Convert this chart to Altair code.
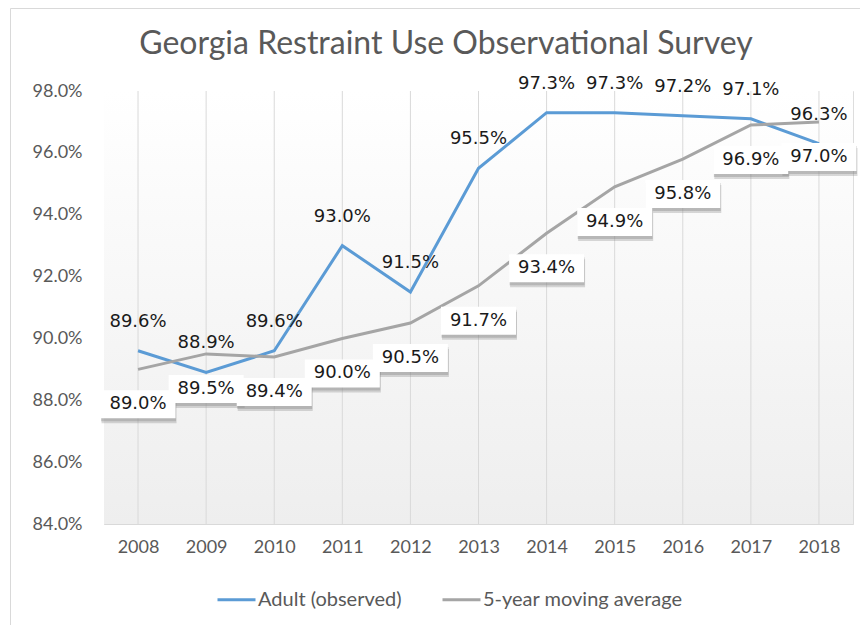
import altair as alt
import pandas as pd

years = [2008, 2009, 2010, 2011, 2012, 2013, 2014, 2015, 2016, 2017, 2018]
adult = [89.6, 88.9, 89.6, 93.0, 91.5, 95.5, 97.3, 97.3, 97.2, 97.1, 96.3]
moving_avg = [89.0, 89.5, 89.4, 90.0, 90.5, 91.7, 93.4, 94.9, 95.8, 96.9, 97.0]
series_names = ["Adult (observed)", "5-year moving average"]
series_colors = ["#5b9bd5", "#a5a5a5"]
y_ticks = [84, 86, 88, 90, 92, 94, 96, 98]
title_text = "Georgia Restraint Use Observational Survey"

W, H = 749, 433

df_a = pd.DataFrame({"year": years, "value": adult, "series": series_names[0]})
df_m = pd.DataFrame({"year": years, "value": moving_avg, "series": series_names[1]})
df = pd.concat([df_a, df_m], ignore_index=True)
df["label"] = df["value"].map(lambda v: f"{v:.1f}%")

x_scale = alt.Scale(domain=[years[0] - 0.5, years[-1] + 0.5], nice=False, zero=False)
x_enc = alt.X("year:Q", scale=x_scale,
              axis=alt.Axis(title=None, values=years, format="d", labelAngle=0, labelFont="Lato",
                            labelFontSize=18, labelColor="#595959", labelPadding=14, ticks=False,
                            domain=True, domainColor="#d9d9d9", domainWidth=1, grid=False,
                            labelFlush=False))
y_scale = alt.Scale(domain=[84, 98], nice=False, zero=False)
y_enc = alt.Y("value:Q", scale=y_scale,
              axis=alt.Axis(title=None, values=y_ticks, labelFont="Lato", labelFontSize=18,
                            labelColor="#595959", labelPadding=22, ticks=False, domain=False,
                            grid=False, labelExpr="format(datum.value, '.1f') + '%'"))

base = alt.Chart(df)
one = pd.DataFrame({"k": [0]})

bg = alt.Chart(one).mark_rect(
    fill=alt.Gradient(gradient="linear", x1=0, y1=0, x2=0, y2=1,
                      stops=[alt.GradientStop(color="#ffffff", offset=0),
                             alt.GradientStop(color="#eeeeee", offset=1)])
).encode(x=alt.value(0), x2=alt.value(W), y=alt.value(0), y2=alt.value(H))

border_left = alt.Chart(one).mark_rule(color="#d9d9d9", strokeWidth=1).encode(
    x=alt.value(-93.5), y=alt.value(-82.5), y2=alt.value(H + 101))
border_top = alt.Chart(one).mark_rule(color="#d9d9d9", strokeWidth=1).encode(
    x=alt.value(-93.5), x2=alt.value(W + 7), y=alt.value(-82.5))

title = alt.Chart(one).mark_text(font="Lato", fontSize=32, color="#595959", align="center",
                                 baseline="alphabetic").encode(
    x=alt.value(342), y=alt.value(-37), text=alt.value(title_text))

grid = alt.Chart(pd.DataFrame({"year": years})).mark_rule(color="#d9d9d9", strokeWidth=1).encode(
    x=alt.X("year:Q", scale=x_scale), y=alt.value(0), y2=alt.value(H))

lines = base.mark_line(strokeWidth=3).encode(
    x=x_enc, y=y_enc,
    color=alt.Color("series:N", scale=alt.Scale(domain=series_names, range=series_colors),
                    legend=alt.Legend(title=None, orient="none", legendX=112, legendY=488,
                                      direction="horizontal", symbolType="stroke",
                                      symbolSize=1444, symbolStrokeWidth=3,
                                      labelFont="Lato", labelFontSize=20, labelColor="#595959",
                                      labelOffset=1, columnPadding=34, labelLimit=400)),
    order=alt.Order("year:Q"))

adult_df = base.transform_filter(alt.datum.series == series_names[0])
ma_df = base.transform_filter(alt.datum.series == series_names[1])

adult_text = adult_df.mark_text(font="DejaVu Sans", fontSize=18, color="#1a1a1a",
                                dy=-29, baseline="middle").encode(
    x=alt.X("year:Q", scale=x_scale), y=alt.Y("value:Q", scale=y_scale), text="label:N")

shadow1 = ma_df.mark_rect(width=75, height=28, yOffset=40, xOffset=1, fill="#808080",
                          opacity=0.3).encode(x=alt.X("year:Q", scale=x_scale),
                                              y=alt.Y("value:Q", scale=y_scale))
shadow2 = ma_df.mark_rect(width=75, height=28, yOffset=38, xOffset=0.5, fill="#808080",
                          opacity=0.35).encode(x=alt.X("year:Q", scale=x_scale),
                                               y=alt.Y("value:Q", scale=y_scale))
box = ma_df.mark_rect(width=75, height=28, yOffset=35, fill="#ffffff").encode(
    x=alt.X("year:Q", scale=x_scale), y=alt.Y("value:Q", scale=y_scale))
ma_text = ma_df.mark_text(font="DejaVu Sans", fontSize=18, color="#1a1a1a",
                          dy=35, baseline="middle").encode(
    x=alt.X("year:Q", scale=x_scale), y=alt.Y("value:Q", scale=y_scale), text="label:N")

chart = alt.layer(bg, border_left, border_top, title, grid, lines, adult_text,
                  shadow1, shadow2, box, ma_text).properties(
    width=W, height=H,
    padding={"left": 96, "top": 83, "right": 7, "bottom": 101},
    autosize=alt.AutoSizeParams(type="none"),
).configure_view(stroke=None).configure(background="#ffffff")

chart.save("out.html", embed_options={"renderer": "svg", "actions": False})
